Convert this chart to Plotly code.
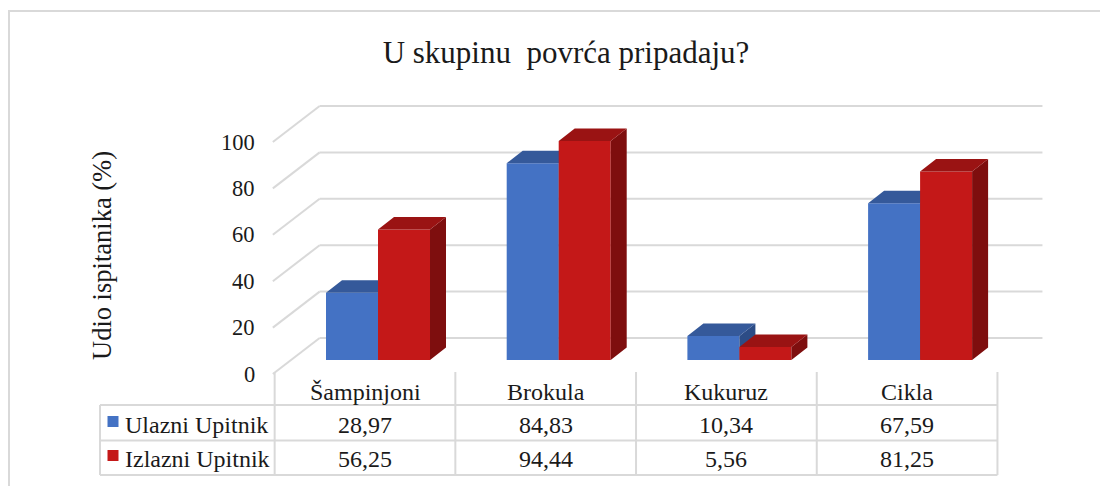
import plotly.graph_objects as go

# ---------------- data ----------------
categories = ["Šampinjoni", "Brokula", "Kukuruz", "Cikla"]
series_names = ["Ulazni Upitnik", "Izlazni Upitnik"]
ulazni = [28.97, 84.83, 10.34, 67.59]
izlazni = [56.25, 94.44, 5.56, 81.25]
y_ticks = [0, 20, 40, 60, 80, 100]
title_text = "U skupinu  povrća pripadaju?"
y_title = "Udio ispitanika (%)"

# ---------------- layout constants (viewport pixels) ----------------
W, H = 1108, 486
OFF = 8             # default page body margin
CAT_PX = 180.7      # pixels per category (front plane)
X0_PX = 365.0       # pixel x of category 0 centre (front plane)
Y_PX = 2.32         # pixels per value unit
Y0_PX = 374.0       # pixel y of value 0 (front plane)

FONT = "Times New Roman, Liberation Serif, serif"
TXT = "#1a1a1a"
GRID = "#D9D9D9"


def xd(px):
    return (px - X0_PX) / CAT_PX


def yd(py):
    return (Y0_PX - py) / Y_PX


def xp(px):
    return (px - OFF) / (W - OFF)


def yp(py):
    return 1 - (py - OFF) / (H - OFF)


# 3D geometry (in data units)
WALL_DX = 45 / CAT_PX
WALL_DY = 36 / Y_PX
BAR_DX = 16 / CAT_PX
BAR_DY = 12.5 / Y_PX
BAR_BASE = yd(360)
BAR_W = 52 / CAT_PX
OFFSETS = [xd(326) + BAR_W / 2, xd(378) + BAR_W / 2]

styles = [
    dict(front="#4472C4", top="#35599A", side="#2C4C86"),
    dict(front="#C41818", top="#9A1313", side="#7E0E0E"),
]

fig = go.Figure()

all_series = [ulazni, izlazni]
for s, (vals, st, off) in enumerate(zip(all_series, styles, OFFSETS)):
    xa = "x" if s == 0 else "x2"
    ya = "y" if s == 0 else "y2"
    xs = [i + off for i in range(len(categories))]
    fig.add_trace(go.Bar(
        x=xs, y=vals, base=[BAR_BASE] * len(vals), width=BAR_W,
        marker=dict(color=st["front"], line=dict(width=0)),
        xaxis=xa, yaxis=ya, name=series_names[s], showlegend=False,
        hoverinfo="skip",
    ))
    sx, sy = [], []
    tx, ty = [], []
    for xc, v in zip(xs, vals):
        x0 = xc - BAR_W / 2
        x1 = xc + BAR_W / 2
        top = BAR_BASE + v
        sx += [x1, x1, x1 + BAR_DX, x1 + BAR_DX, x1, None]
        sy += [BAR_BASE, top, top + BAR_DY, BAR_BASE + BAR_DY, BAR_BASE, None]
        tx += [x0, x1, x1 + BAR_DX, x0 + BAR_DX, x0, None]
        ty += [top, top, top + BAR_DY, top + BAR_DY, top, None]
    fig.add_trace(go.Scatter(
        x=sx, y=sy, mode="lines", fill="toself", fillcolor=st["side"],
        line=dict(width=0, color=st["side"]), xaxis=xa, yaxis=ya,
        showlegend=False, hoverinfo="skip"))
    fig.add_trace(go.Scatter(
        x=tx, y=ty, mode="lines", fill="toself", fillcolor=st["top"],
        line=dict(width=0, color=st["top"]), xaxis=xa, yaxis=ya,
        showlegend=False, hoverinfo="skip"))

# legend keys in table
key_y = [yd(421.5), yd(455.5)]
for s in range(2):
    fig.add_trace(go.Scatter(
        x=[xd(113)], y=[key_y[s]], mode="markers",
        marker=dict(symbol="square", size=11, color=styles[s]["front"]),
        showlegend=False, hoverinfo="skip"))

shapes = []
n = len(categories)
x_left = -0.5
x_right = n - 0.5
for v in y_ticks:
    shapes.append(dict(type="line", xref="x", yref="y", layer="below",
                       x0=x_left + WALL_DX, x1=x_right + WALL_DX,
                       y0=v + WALL_DY, y1=v + WALL_DY,
                       line=dict(color=GRID, width=2)))
    shapes.append(dict(type="line", xref="x", yref="y", layer="below",
                       x0=x_left - 0.01, x1=x_left + WALL_DX,
                       y0=v, y1=v + WALL_DY,
                       line=dict(color=GRID, width=2)))

tbl_top = yd(372)
row_lines = [yd(405), yd(440.5), yd(475)]
for yy in row_lines:
    shapes.append(dict(type="line", xref="x", yref="y",
                       x0=xd(100), x1=x_right, y0=yy, y1=yy,
                       line=dict(color=GRID, width=2)))
shapes.append(dict(type="line", xref="x", yref="y",
                   x0=xd(100), x1=xd(100), y0=row_lines[0], y1=row_lines[-1],
                   line=dict(color=GRID, width=2)))
for k in range(n + 1):
    xx = k - 0.5
    shapes.append(dict(type="line", xref="x", yref="y",
                       x0=xx, x1=xx, y0=tbl_top, y1=row_lines[-1],
                       line=dict(color=GRID, width=2)))

# outer chart border (left + top)
shapes.append(dict(type="path", xref="paper", yref="paper",
                   path=f"M {xp(9)} {yp(H)} L {xp(9)} {yp(11)} L 1 {yp(11)}",
                   line=dict(color=GRID, width=2)))

annotations = []
for v in y_ticks:
    annotations.append(dict(x=xd(257), y=v, xref="x", yref="y", text=str(v),
                            xanchor="right", yanchor="middle", showarrow=False,
                            font=dict(family=FONT, size=22.5, color=TXT)))
annotations.append(dict(x=xd(102), y=yd(256), xref="x", yref="y", text=y_title,
                        textangle=-90, xanchor="center", yanchor="middle",
                        showarrow=False, font=dict(family=FONT, size=26.5, color=TXT)))
for i, c in enumerate(categories):
    annotations.append(dict(x=i, y=yd(392), xref="x", yref="y", text=c,
                            xanchor="center", yanchor="middle", showarrow=False,
                            font=dict(family=FONT, size=24, color=TXT)))
row_centers = [yd(424.5), yd(459)]
for s, vals in enumerate(all_series):
    annotations.append(dict(x=xd(123), y=row_centers[s], xref="x", yref="y",
                            text=series_names[s], xanchor="left", yanchor="middle",
                            showarrow=False, font=dict(family=FONT, size=24, color=TXT)))
    for i, v in enumerate(vals):
        annotations.append(dict(x=i, y=row_centers[s], xref="x", yref="y",
                                text=f"{v:.2f}".replace(".", ","),
                                xanchor="center", yanchor="middle", showarrow=False,
                                font=dict(family=FONT, size=24, color=TXT)))

xr = [xd(OFF), xd(W)]
yr = [yd(H), yd(OFF)]
ax_common = dict(showgrid=False, zeroline=False, showticklabels=False,
                 showline=False, ticks="", fixedrange=True)
fig.update_layout(
    width=W - OFF, height=H - OFF,
    margin=dict(l=0, r=0, t=0, b=0),
    paper_bgcolor="white", plot_bgcolor="white",
    title=dict(text=title_text, x=xp(566), xanchor="center",
               y=yp(52), yanchor="middle",
               font=dict(family=FONT, size=31, color=TXT)),
    xaxis=dict(range=xr, domain=[0, 1], **ax_common),
    yaxis=dict(range=yr, domain=[0, 1], **ax_common),
    xaxis2=dict(range=xr, overlaying="x", **ax_common),
    yaxis2=dict(range=yr, overlaying="y", **ax_common),
    barmode="overlay",
    shapes=shapes,
    annotations=annotations,
    showlegend=False,
)

fig.write_html("out.html")
